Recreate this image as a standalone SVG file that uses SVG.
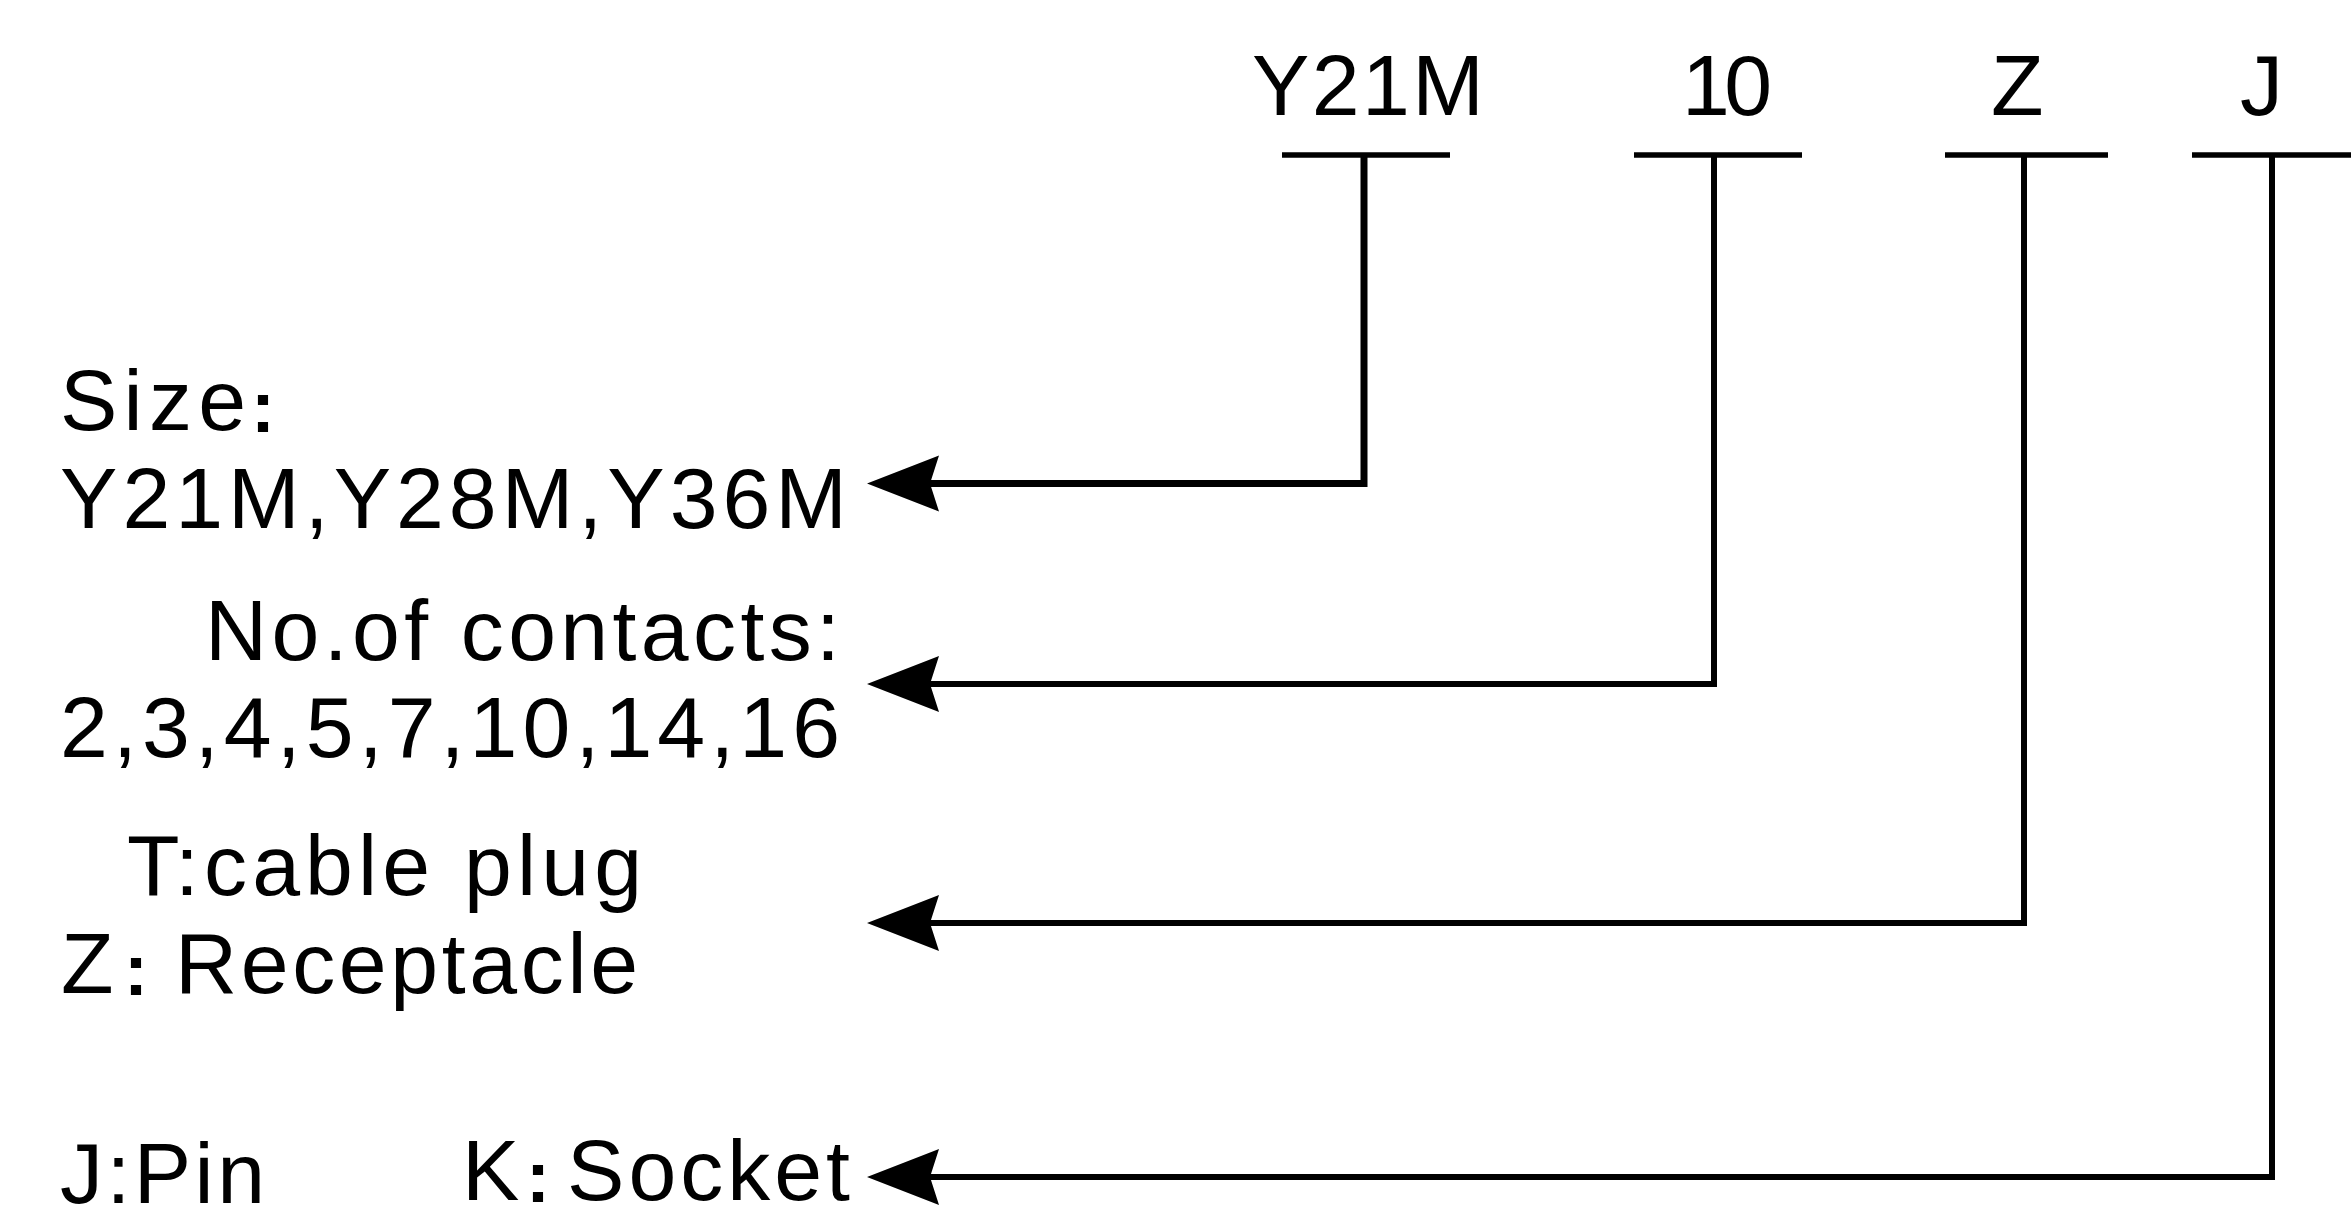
<svg xmlns="http://www.w3.org/2000/svg" width="2351" height="1224" viewBox="0 0 2351 1224">
<style>
text{font-family:"Liberation Sans",Arial,sans-serif;font-size:86px;fill:#000}
text.col{font-size:72px;font-weight:bold;text-anchor:middle}
.ul{stroke:#000;stroke-width:5.5;fill:none}
.con{stroke:#000;stroke-width:6;fill:none;stroke-linejoin:miter}
.thick{stroke-width:7}
</style>
<defs>
<marker id="ah" markerUnits="userSpaceOnUse" viewBox="-74 -31 78 62" markerWidth="78" markerHeight="62" refX="-62" refY="0" orient="auto">
<path d="M0,0 L-72,-28 L-63,0 L-72,28 Z" fill="#000"/>
</marker>
</defs>
<rect width="2351" height="1224" fill="#fff"/>
<g id="code-Y21M">
<text x="1252" y="115" textLength="232">Y21M</text>
<line class="ul" x1="1282" y1="155" x2="1450" y2="155"/>
</g>
<g id="code-10">
<text x="1682" y="115" textLength="90">10</text>
<line class="ul" x1="1634" y1="155" x2="1802" y2="155"/>
</g>
<g id="code-Z">
<text x="1991" y="115" textLength="56">Z</text>
<line class="ul" x1="1945" y1="155" x2="2108" y2="155"/>
</g>
<g id="code-J">
<text x="2240" y="115" textLength="40">J</text>
<line class="ul" x1="2192" y1="155" x2="2351" y2="155"/>
</g>
<g id="desc-size">
<text x="60" y="430" textLength="186">Size</text>
<text class="col" x="263" y="432">:</text>
<text x="60" y="528" textLength="787">Y21M,Y28M,Y36M</text>
</g>
<g id="desc-contacts">
<text x="205" y="660" textLength="635">No.of contacts:</text>
<text x="60" y="757" textLength="780">2,3,4,5,7,10,14,16</text>
</g>
<g id="desc-type">
<text x="127" y="895" textLength="515">T:cable plug</text>
<text x="61" y="993" textLength="45">Z</text>
<text class="col" x="136" y="995">:</text>
<text x="175" y="993" textLength="463">Receptacle</text>
</g>
<g id="desc-contact-type">
<text x="60" y="1203" textLength="205">J:Pin</text>
<text x="462" y="1200" textLength="48">K</text>
<text class="col" x="538" y="1202">:</text>
<text x="567" y="1200" textLength="283">Socket</text>
</g>
<g id="connectors">
<path class="con thick" d="M1364,155 V483.5 H929" marker-end="url(#ah)"/>
<path class="con" d="M1714,155 V684 H929" marker-end="url(#ah)"/>
<path class="con" d="M2024,155 V923 H929" marker-end="url(#ah)"/>
<path class="con" d="M2272,155 V1177 H929" marker-end="url(#ah)"/>
</g>
</svg>
